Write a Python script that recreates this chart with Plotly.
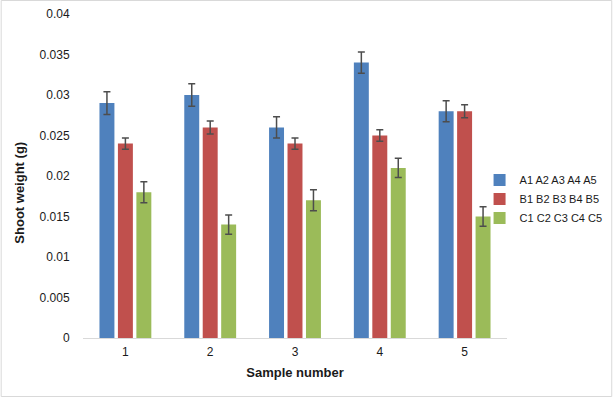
import plotly.graph_objects as go

categories = ["1", "2", "3", "4", "5"]
series_names = ["A1 A2 A3 A4 A5", "B1 B2 B3 B4 B5", "C1 C2 C3 C4 C5"]
a_vals = [0.029, 0.030, 0.026, 0.034, 0.028]
b_vals = [0.024, 0.026, 0.024, 0.025, 0.028]
c_vals = [0.018, 0.014, 0.017, 0.021, 0.015]
a_err = [0.0014, 0.0014, 0.0013, 0.0013, 0.0013]
b_err = [0.0007, 0.0008, 0.0007, 0.0007, 0.0008]
c_err = [0.0013, 0.0012, 0.0013, 0.0012, 0.0012]
y_ticks = [0, 0.005, 0.01, 0.015, 0.02, 0.025, 0.03, 0.035, 0.04]
y_tick_labels = ["0", "0.005", "0.01", "0.015", "0.02", "0.025", "0.03", "0.035", "0.04"]
x_title = "Sample number"
y_title = "Shoot weight (g)"

colors = ["#4F81BD", "#C0504D", "#9BBB59"]

W, H = 614, 398
L, R, T, B = 82.5, 106.5, 14, 60
pw, ph = W - L - R, H - T - B

fig = go.Figure()
for name, vals, errs, col in zip(series_names, [a_vals, b_vals, c_vals], [a_err, b_err, c_err], colors):
    fig.add_trace(go.Bar(
        x=categories, y=vals, name=name, marker=dict(color=col, line=dict(width=0)),
        error_y=dict(type="data", array=errs, visible=True, color="#4d4d4d", thickness=1.5, width=3.5),
    ))

fig.update_layout(
    width=W, height=H,
    margin=dict(l=L, r=R, t=T, b=B, autoexpand=False),
    paper_bgcolor="white", plot_bgcolor="white",
    barmode="group", bargap=0.347, bargroupgap=0.19,
    font=dict(family="Liberation Sans, Arial, sans-serif", size=12, color="#1a1a1a"),
    showlegend=True,
    legend=dict(x=(480 - L) / pw, y=(T + ph - 199) / ph, xanchor="left", yanchor="middle",
                font=dict(size=11, color="#1a1a1a"), itemwidth=30, bgcolor="rgba(0,0,0,0)"),
    xaxis=dict(
        automargin=False,
        showline=True, linecolor="#d9d9d9", linewidth=1, showgrid=False, zeroline=False,
        ticks="outside", ticklen=3, tickcolor="rgba(0,0,0,0)", tickfont=dict(size=12, color="#1a1a1a"),
        title=dict(text="<b>" + x_title + "</b>", font=dict(size=13, color="#1a1a1a"), standoff=9),
    ),
    yaxis=dict(
        automargin=False,
        range=[0, 0.04], tickvals=y_ticks, ticktext=y_tick_labels,
        showline=False, showgrid=False, zeroline=False,
        ticks="outside", ticklen=10, tickcolor="rgba(0,0,0,0)", tickfont=dict(size=12, color="#1a1a1a"),
    ),
    annotations=[dict(text="<b>" + y_title + "</b>", xref="paper", yref="paper",
                      x=(18 - L) / pw, y=(T + ph - 193) / ph, xanchor="center", yanchor="middle",
                      textangle=-90, showarrow=False, font=dict(size=13, color="#1a1a1a"))],
    shapes=[dict(type="rect", xref="paper", yref="paper",
                 x0=(0.5 - L) / pw, x1=(W - 1.5 - L) / pw, y0=(T + ph - (H - 1.5)) / ph, y1=(T + ph - 0.5) / ph,
                 line=dict(color="#d9d9d9", width=1))],
)

fig.write_html("out.html", config={"displayModeBar": False},
               post_script="document.body.style.margin='0';document.body.style.overflow='hidden';")
